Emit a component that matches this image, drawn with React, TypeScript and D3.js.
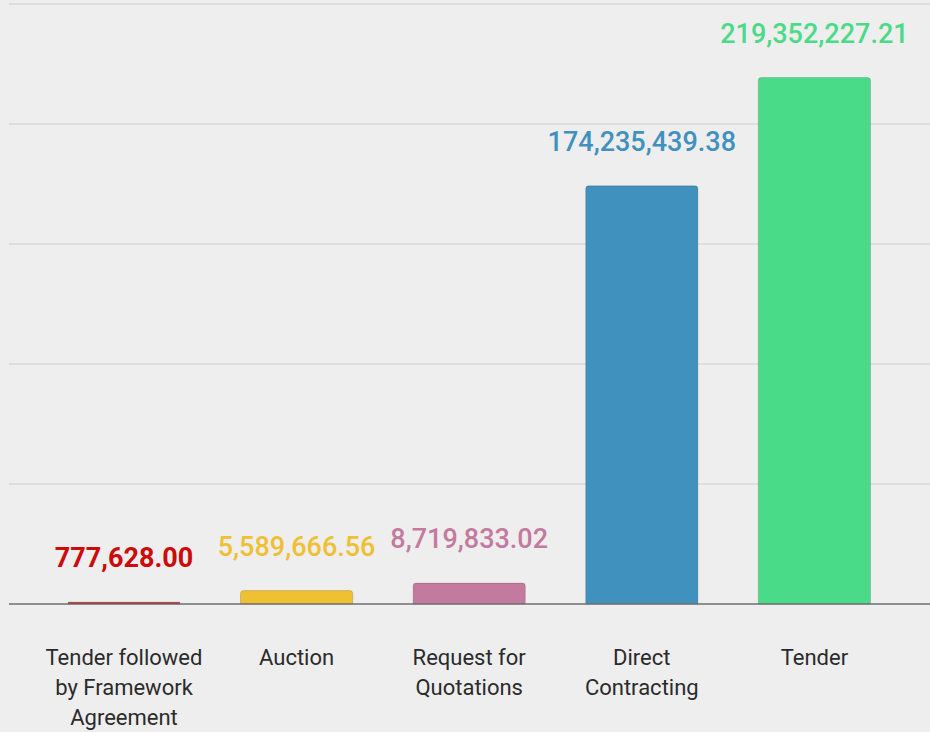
import React from "react";
import * as d3 from "d3";

const categories = [
  ["Tender followed", "by Framework", "Agreement"],
  ["Auction"],
  ["Request for", "Quotations"],
  ["Direct", "Contracting"],
  ["Tender"],
];
const keys = ["tffa", "auction", "rfq", "direct", "tender"];
const values = [777628.0, 5589666.56, 8719833.02, 174235439.38, 219352227.21];
const barColors = ["#c8101c", "#efc031", "#c47a9f", "#4191be", "#4adb88"];
const labelColors = ["#cc0b0b", "#efc031", "#c47a9f", "#4191be", "#4adb88"];
const gridTicks = [50e6, 100e6, 150e6, 200e6, 250e6];

const W = 930;
const H = 732;
const baseY = 604;
const topY = 4;

export default function App() {
  const x = d3
    .scaleBand<string>()
    .domain(keys)
    .range([37.7, 900.7])
    .paddingInner(0.35)
    .paddingOuter(0.175);
  const y = d3.scaleLinear().domain([0, 250e6]).range([baseY, topY]);
  const fmt = d3.format(",.2f");
  const r = 3;

  const barPath = (x0: number, y0: number, w: number, y1: number) => {
    const h = y1 - y0;
    const rr = Math.min(r, h / 2, w / 2);
    const p = d3.path();
    p.moveTo(x0, y1);
    p.lineTo(x0, y0 + rr);
    p.quadraticCurveTo(x0, y0, x0 + rr, y0);
    p.lineTo(x0 + w - rr, y0);
    p.quadraticCurveTo(x0 + w, y0, x0 + w, y0 + rr);
    p.lineTo(x0 + w, y1);
    p.closePath();
    return p.toString();
  };

  return (
    <svg
      width={W}
      height={H}
      style={{ position: "absolute", left: 0, top: 0, background: "#eeeeee" }}
    >
      <rect x={0} y={0} width={W} height={H} fill="#eeeeee" />
      {gridTicks.map((t) => (
        <line
          key={t}
          x1={9}
          x2={W}
          y1={y(t)}
          y2={y(t)}
          stroke="#d9d9d9"
          strokeWidth={1.5}
        />
      ))}
      {keys.map((k, i) => {
        const x0 = x(k)!;
        const w = x.bandwidth();
        const y0 = y(values[i]);
        return (
          <path
            key={k}
            d={barPath(x0, y0, w, baseY)}
            fill={barColors[i]}
            stroke="rgba(0,0,0,0.15)"
            strokeWidth={1}
          />
        );
      })}
      <line x1={9} x2={W} y1={baseY} y2={baseY} stroke="#6f6f6f" strokeWidth={1.6} />
      {keys.map((k, i) => (
        <text
          key={k}
          x={x(k)! + x.bandwidth() / 2}
          y={y(values[i]) - 35}
          textAnchor="middle"
          fill={labelColors[i]}
          fontFamily="Roboto"
          fontWeight={i === 0 ? 700 : 500}
          fontSize={27}
        >
          {fmt(values[i])}
        </text>
      ))}
      {keys.map((k, i) => (
        <text
          key={k}
          x={x(k)! + x.bandwidth() / 2}
          y={665}
          textAnchor="middle"
          fill="#2b2b2b"
          fontFamily="Roboto"
          fontSize={22}
        >
          {categories[i].map((line, j) => (
            <tspan key={j} x={x(k)! + x.bandwidth() / 2} dy={j === 0 ? 0 : 30}>
              {line}
            </tspan>
          ))}
        </text>
      ))}
    </svg>
  );
}
